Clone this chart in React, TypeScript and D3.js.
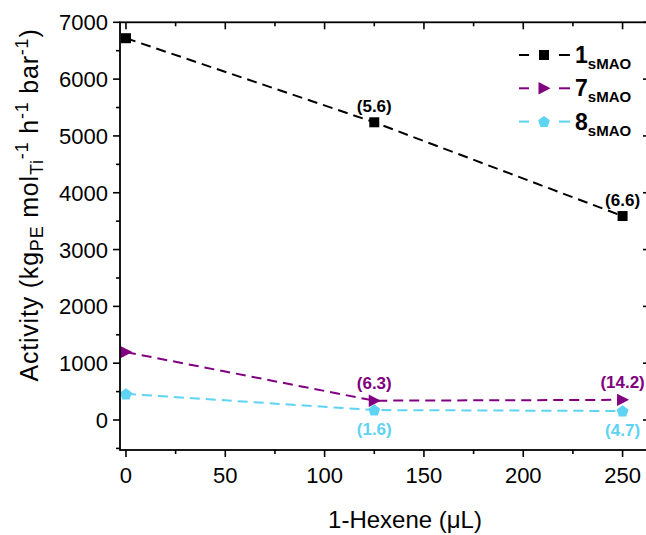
import React from 'react';
import * as d3 from 'd3';

// 1-hexene volume (µL) and catalyst activity for each supported system
const hexene = [0, 125, 250];
const activity1 = [6720, 5240, 3590];
const activity7 = [1195, 340, 355];
const activity8 = [460, 175, 158];

// values printed beside the points
const notes1 = ['', '(5.6)', '(6.6)'];
const notes7 = ['', '(6.3)', '(14.2)'];
const notes8 = ['', '(1.6)', '(4.7)'];

const xTicks = [0, 50, 100, 150, 200, 250];
const xMinor = [25, 75, 125, 175, 225];
const yTicks = [0, 1000, 2000, 3000, 4000, 5000, 6000, 7000];
const yMinor = [-500, 500, 1500, 2500, 3500, 4500, 5500, 6500];

const W = 646;
const H = 535;
const FONT = '"Liberation Sans", Arial, Helvetica, sans-serif';

const left = 120;
const right = 650;
const top = 22.3;
const bottom = 450;

const x = d3.scaleLinear().domain([-3, 263.8]).range([left, right]);
const y = d3.scaleLinear().domain([-528, 7000]).range([bottom, top]);

const BLACK = '#000000';
const PURPLE = '#800080';
const CYAN = '#5ED3F3';

type Shape = 'square' | 'triangle' | 'pentagon';

function markerPath(shape: Shape): string {
  if (shape === 'square') {
    return d3.symbol(d3.symbolSquare, 100)() as string;
  }
  if (shape === 'triangle') {
    const pts: [number, number][] = [[6.5, 0], [-5.5, -6.2], [-5.5, 6.2]];
    return (d3.line()(pts) as string) + 'Z';
  }
  const r = 6.2;
  const pts: [number, number][] = d3.range(5).map((i) => {
    const a = -Math.PI / 2 + (i * 2 * Math.PI) / 5;
    return [r * Math.cos(a), r * Math.sin(a) + 0.5];
  });
  return (d3.line()(pts) as string) + 'Z';
}

interface Series {
  key: string;
  values: number[];
  notes: string[];
  noteDy: number;
  color: string;
  shape: Shape;
}

const series: Series[] = [
  { key: '1', values: activity1, notes: notes1, noteDy: -10, color: BLACK, shape: 'square' },
  { key: '7', values: activity7, notes: notes7, noteDy: -11.5, color: PURPLE, shape: 'triangle' },
  { key: '8', values: activity8, notes: notes8, noteDy: 25, color: CYAN, shape: 'pentagon' },
];

export default function App() {
  const line = d3
    .line<number>()
    .x((_, i) => x(hexene[i]))
    .y((d) => y(d));

  const major = 7;
  const minor = 4;

  return (
    <svg
      width={W}
      height={H}
      viewBox={`0 0 ${W} ${H}`}
      style={{ position: 'absolute', left: 0, top: 0, background: '#fff' }}
      fontFamily={FONT}
    >
      <rect x={0} y={0} width={W} height={H} fill="#fff" />

      {/* data lines */}
      {series.map((s) => (
        <path
          key={`line-${s.key}`}
          d={line(s.values) as string}
          fill="none"
          stroke={s.color}
          strokeWidth={2}
          strokeDasharray="10 6"
        />
      ))}

      {/* markers */}
      {series.map((s) =>
        s.values.map((v, i) => (
          <path
            key={`m-${s.key}-${i}`}
            d={markerPath(s.shape)}
            transform={`translate(${x(hexene[i])},${y(v)})`}
            fill={s.color}
          />
        ))
      )}

      {/* point notes */}
      {series.map((s) =>
        s.notes.map((t, i) =>
          t ? (
            <text
              key={`n-${s.key}-${i}`}
              x={x(hexene[i])}
              y={y(s.values[i]) + s.noteDy}
              textAnchor="middle"
              fontSize={17}
              fontWeight="bold"
              fill={s.color}
            >
              {t}
            </text>
          ) : null
        )
      )}

      {/* frame */}
      <rect
        x={left}
        y={top}
        width={right - left}
        height={bottom - top}
        fill="none"
        stroke="#000"
        strokeWidth={1.8}
      />

      {/* x ticks: outward at bottom, inward at top */}
      {xTicks.map((t) => (
        <g key={`xt-${t}`}>
          <line x1={x(t)} x2={x(t)} y1={bottom} y2={bottom + major} stroke="#000" strokeWidth={1.6} />
          <line x1={x(t)} x2={x(t)} y1={top} y2={top + major} stroke="#000" strokeWidth={1.6} />
          <text x={x(t)} y={bottom + 33} textAnchor="middle" fontSize={22} fill="#000">
            {t}
          </text>
        </g>
      ))}
      {xMinor.map((t) => (
        <g key={`xm-${t}`}>
          <line x1={x(t)} x2={x(t)} y1={bottom} y2={bottom + minor} stroke="#000" strokeWidth={1.6} />
          <line x1={x(t)} x2={x(t)} y1={top} y2={top + minor} stroke="#000" strokeWidth={1.6} />
        </g>
      ))}

      {/* y ticks: outward at left, inward at right */}
      {yTicks.map((t) => (
        <g key={`yt-${t}`}>
          <line x1={left - major} x2={left} y1={y(t)} y2={y(t)} stroke="#000" strokeWidth={1.6} />
          <line x1={right - major} x2={right} y1={y(t)} y2={y(t)} stroke="#000" strokeWidth={1.6} />
          <text x={left - 12} y={y(t) + 8} textAnchor="end" fontSize={22} fill="#000">
            {t}
          </text>
        </g>
      ))}
      {yMinor.map((t) => (
        <g key={`ym-${t}`}>
          <line x1={left - minor} x2={left} y1={y(t)} y2={y(t)} stroke="#000" strokeWidth={1.6} />
          <line x1={right - minor} x2={right} y1={y(t)} y2={y(t)} stroke="#000" strokeWidth={1.6} />
        </g>
      ))}

      {/* axis titles */}
      <text x={(left + right) / 2 + 20} y={528} textAnchor="middle" fontSize={24} fill="#000">
        1-Hexene (μL)
      </text>
      <text
        transform={`translate(38,${205}) rotate(-90)`}
        textAnchor="middle"
        fontSize={25}
        fill="#000"
        letterSpacing={0.8}
      >
        Activity (kg
        <tspan fontSize={18} dy={5}>PE</tspan>
        <tspan dy={-5}> mol</tspan>
        <tspan fontSize={18} dy={5}>Ti</tspan>
        <tspan fontSize={18} dy={-15}>-1</tspan>
        <tspan dy={10}> h</tspan>
        <tspan fontSize={18} dy={-10}>-1</tspan>
        <tspan dy={10}> bar</tspan>
        <tspan fontSize={18} dy={-10}>-1</tspan>
        <tspan dy={10}>)</tspan>
      </text>

      {/* legend */}
      {series.map((s, i) => {
        const ly = 55 + i * 33.3;
        return (
          <g key={`lg-${s.key}`}>
            <line x1={519} x2={529} y1={ly} y2={ly} stroke={s.color} strokeWidth={2} />
            <line x1={559} x2={570} y1={ly} y2={ly} stroke={s.color} strokeWidth={2} />
            <path d={markerPath(s.shape)} transform={`translate(544,${ly})`} fill={s.color} />
            <text x={575} y={ly + 8} fontSize={23} fontWeight="bold" fill="#000">
              {s.key}
              <tspan fontSize={15} dy={6}>sMAO</tspan>
            </text>
          </g>
        );
      })}
    </svg>
  );
}
